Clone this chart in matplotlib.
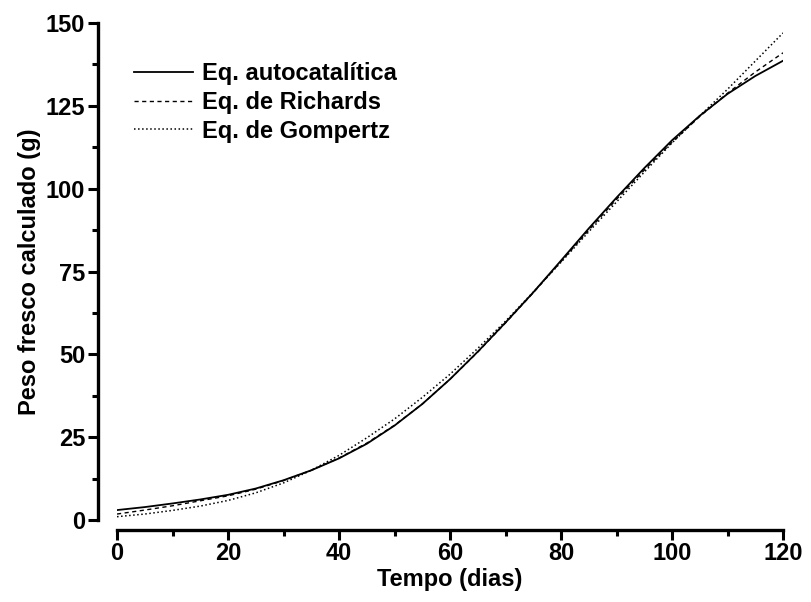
import numpy as np
import matplotlib
matplotlib.use("Agg")
import matplotlib.pyplot as plt
from matplotlib.ticker import MultipleLocator

plt.rcParams['font.family'] = ['Liberation Sans', 'DejaVu Sans']

# dias
tempo = [0, 5, 10, 15, 20, 25, 30, 35, 40, 45, 50, 55, 60,
         65, 70, 75, 80, 85, 90, 95, 100, 105, 110, 115, 120]

# peso fresco calculado (g)
autocatalitica = [3.0, 3.9, 5.0, 6.2, 7.6, 9.5, 12.0, 15.0, 18.6, 23.0, 28.5, 35.0, 42.5,
                  50.8, 59.6, 68.7, 78.3, 88.0, 97.3, 106.2, 114.6, 122.0, 128.6, 134.0, 138.6]
richards = [1.8, 3.0, 4.3, 5.8, 7.3, 9.3, 11.9, 15.0, 18.7, 23.2, 28.6, 35.0, 42.5,
            50.7, 59.5, 68.6, 78.0, 87.5, 96.8, 105.6, 114.0, 121.8, 128.8, 135.2, 141.0]
gompertz = [1.0, 1.8, 2.9, 4.2, 5.9, 8.2, 11.2, 15.0, 19.5, 24.8, 30.5, 37.0, 44.0,
            51.8, 60.0, 68.8, 77.8, 87.0, 96.0, 105.0, 113.8, 122.0, 130.0, 138.5, 147.0]

fs = 17

fig = plt.figure(figsize=(8.11, 6.02), dpi=100)
ax = fig.add_axes([0.1443, 0.1362, 0.8212, 0.8256])

ax.plot(tempo, autocatalitica, 'k-', lw=1.3, label='Eq. autocatalítica')
ax.plot(tempo, richards, 'k--', lw=1.0, dashes=(3, 2.5), label='Eq. de Richards')
ax.plot(tempo, gompertz, 'k:', lw=1.1, label='Eq. de Gompertz')

ax.set_xlim(0, 120)
ax.set_ylim(0, 150)
ax.spines['top'].set_visible(False)
ax.spines['right'].set_visible(False)
ax.spines['left'].set_position(('outward', 14))
ax.spines['bottom'].set_position(('outward', 7))
for s in ['left', 'bottom']:
    ax.spines[s].set_linewidth(2.4)

ax.xaxis.set_major_locator(MultipleLocator(20))
ax.xaxis.set_minor_locator(MultipleLocator(10))
ax.yaxis.set_major_locator(MultipleLocator(25))
ax.yaxis.set_minor_locator(MultipleLocator(12.5))
ax.tick_params(which='major', direction='out', length=7, width=2.2, labelsize=fs, pad=2)
ax.tick_params(which='minor', direction='out', length=4, width=2.2)
for lab in ax.get_xticklabels() + ax.get_yticklabels():
    lab.set_fontweight('bold')

ax.set_xlabel('Tempo (dias)', fontsize=fs, fontweight='bold', labelpad=2)
ax.set_ylabel('Peso fresco calculado (g)', fontsize=fs, fontweight='bold', labelpad=3)

leg = ax.legend(loc='upper left', bbox_to_anchor=(0.0, 0.955), frameon=False,
                prop={'size': fs, 'weight': 'bold'}, handlelength=2.5,
                handletextpad=0.4, labelspacing=0.25, borderaxespad=0.3)

fig.savefig('out.png', dpi=100)
